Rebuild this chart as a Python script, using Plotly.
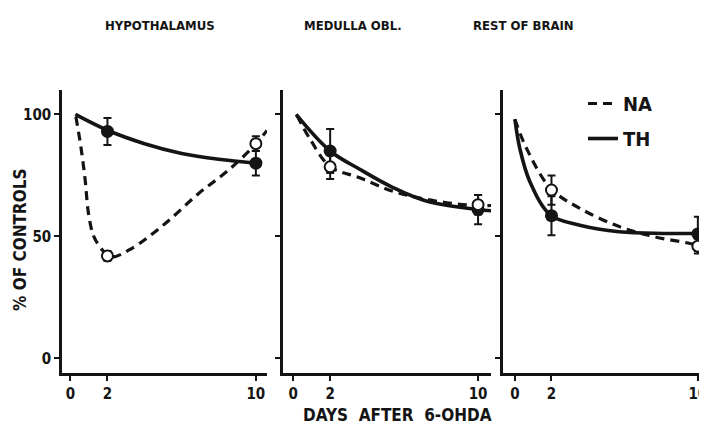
import plotly.graph_objects as go

# ---- data ----
panels = ["HYPOTHALAMUS", "MEDULLA OBL.", "REST OF BRAIN"]
days = [2, 10]

# measured points (mean, error)
th_hyp = [93, 80];   th_hyp_err = [5.5, 5]
na_hyp = [42, 88];   na_hyp_err = [2, 3]
th_med = [85, 61];   th_med_err = [9, 6]
na_med = [78.5, 63]; na_med_err = [5, 4]
th_rest = [58.5, 51]; th_rest_err = [8, 7]
na_rest = [69, 46];   na_rest_err = [6, 3]

# fitted curves
th_hyp_cx = [0.27, 2.0, 4.0, 6.0, 8.0, 10.0]
th_hyp_cy = [100, 93.5, 88, 84, 81.6, 80]
na_hyp_cx = [0.3, 0.57, 0.8, 0.98, 1.28, 1.82, 2.2, 3.3, 5.1, 6.9, 8.5, 9.93, 10.6]
na_hyp_cy = [99, 86.6, 73, 59.3, 49.7, 43.6, 41.5, 45, 55.2, 67.5, 77, 87.3, 93.4]

th_med_cx = [0.16, 2.0, 3.6, 5.4, 7.2, 10.0, 10.9]
th_med_cy = [100, 85, 77.5, 70, 64.5, 61, 60.4]
na_med_cx = [0.2, 0.92, 2.0, 3.6, 5.6, 8.3, 10.0, 10.9]
na_med_cy = [99.6, 89.8, 78.6, 74, 68, 63.8, 62.7, 62.7]

th_rest_cx = [0.0, 0.27, 0.82, 1.95, 3.55, 5.7, 8.1, 10.0, 10.5]
th_rest_cy = [98, 86, 72.4, 58.7, 54.6, 51.9, 51.2, 51.2, 51.2]
na_rest_cx = [0.0, 0.64, 1.95, 3.55, 5.7, 7.6, 10.0, 10.5]
na_rest_cy = [98, 86, 69.7, 61.5, 54, 49.9, 46.4, 45]

x_ticks = [0, 2, 10]
x_ticklabels = ["0", "2", "10"]
y_ticks = [0, 50, 100]
y_ticklabels = ["0", "50", "100"]

INK = "#141414"
FONT = "DejaVu Sans Condensed"
DASH = "9px,6px"

# page body has an 8px margin: figure fills the remaining window
OFF = 8
W, H = 707 - OFF, 426 - OFF


def px(x):
    return (x - OFF) / W


def py(y):
    return 1 - (y - OFF) / H


fig = go.Figure()

curves = [
    (th_hyp_cx, th_hyp_cy, na_hyp_cx, na_hyp_cy),
    (th_med_cx, th_med_cy, na_med_cx, na_med_cy),
    (th_rest_cx, th_rest_cy, na_rest_cx, na_rest_cy),
]
points = [
    (th_hyp, th_hyp_err, na_hyp, na_hyp_err),
    (th_med, th_med_err, na_med, na_med_err),
    (th_rest, th_rest_err, na_rest, na_rest_err),
]

for i in range(3):
    xa = "x" if i == 0 else f"x{i+1}"
    ya = "y" if i == 0 else f"y{i+1}"
    tcx, tcy, ncx, ncy = curves[i]
    th, the, na, nae = points[i]
    fig.add_trace(go.Scatter(x=ncx, y=ncy, mode="lines", line=dict(color=INK, width=3.2, dash=DASH, shape="spline", smoothing=1.0),
                             xaxis=xa, yaxis=ya, name="NA", showlegend=(i == 2), legendgroup="NA"))
    fig.add_trace(go.Scatter(x=tcx, y=tcy, mode="lines", line=dict(color=INK, width=3.6, shape="spline", smoothing=1.0),
                             xaxis=xa, yaxis=ya, name="TH", showlegend=(i == 2), legendgroup="TH"))
    fig.add_trace(go.Scatter(x=days, y=th, mode="markers", marker=dict(color=INK, size=13, line=dict(width=0)),
                             error_y=dict(type="data", array=the, color=INK, thickness=2, width=4),
                             xaxis=xa, yaxis=ya, showlegend=False))
    fig.add_trace(go.Scatter(x=days, y=na, mode="markers", marker=dict(color="white", size=11, line=dict(color=INK, width=2)),
                             error_y=dict(type="data", array=nae, color=INK, thickness=2, width=4),
                             xaxis=xa, yaxis=ya, showlegend=False))

# panel geometry (window pixels)
xdoms = [(62, 267), (283, 491), (503, 707)]
xranges = [[-0.45, 10.6], [-0.55, 10.7], [-0.65, 10.5]]
ydom = [py(373), py(90)]

axis_common = dict(showline=True, linecolor=INK, linewidth=2.5, ticks="outside", tickcolor=INK,
                   tickwidth=2, showgrid=False, zeroline=False, automargin=False,
                   ticklabeloverflow="allow",
                   tickfont=dict(family=FONT, size=15, color=INK, weight="bold"))

layout = dict(width=W, height=H, margin=dict(l=0, r=0, t=0, b=0, autoexpand=False), template="none",
              plot_bgcolor="white", paper_bgcolor="white", showlegend=True,
              legend=dict(x=px(583), y=py(84), xanchor="left", yanchor="top", bgcolor="rgba(0,0,0,0)",
                          font=dict(family=FONT, size=20, color=INK, weight="bold"), tracegroupgap=6,
                          itemwidth=30))
for i in range(3):
    sx = "" if i == 0 else str(i + 1)
    layout["xaxis" + sx] = dict(axis_common, domain=[px(xdoms[i][0]), min(1, px(xdoms[i][1]))], range=xranges[i],
                                tickmode="array", tickvals=x_ticks, ticktext=x_ticklabels, ticklen=5,
                                anchor="y" + sx)
    layout["yaxis" + sx] = dict(axis_common, domain=ydom, range=[-6, 110], tickmode="array",
                                tickvals=y_ticks, ticktext=y_ticklabels, ticklen=5,
                                showticklabels=(i == 0), anchor="x" + sx)
fig.update_layout(**layout)

title_x = [160, 353, 523]
for t, cx in zip(panels, title_x):
    fig.add_annotation(text=t, x=px(cx), y=py(25), xref="paper", yref="paper", showarrow=False,
                       xanchor="center", yanchor="middle",
                       font=dict(family=FONT, size=13, color=INK, weight="bold"))
fig.add_annotation(text="% OF CONTROLS", x=px(20), y=py(240), xref="paper", yref="paper", showarrow=False,
                   xanchor="center", yanchor="middle",
                   textangle=-90, font=dict(family=FONT, size=17, color=INK, weight="bold"))
fig.add_annotation(text="DAYS  AFTER  6-OHDA", x=px(398), y=py(415), xref="paper", yref="paper",
                   showarrow=False, xanchor="center", yanchor="middle",
                   font=dict(family=FONT, size=17, color=INK, weight="bold"))

fig.write_html("out.html")
